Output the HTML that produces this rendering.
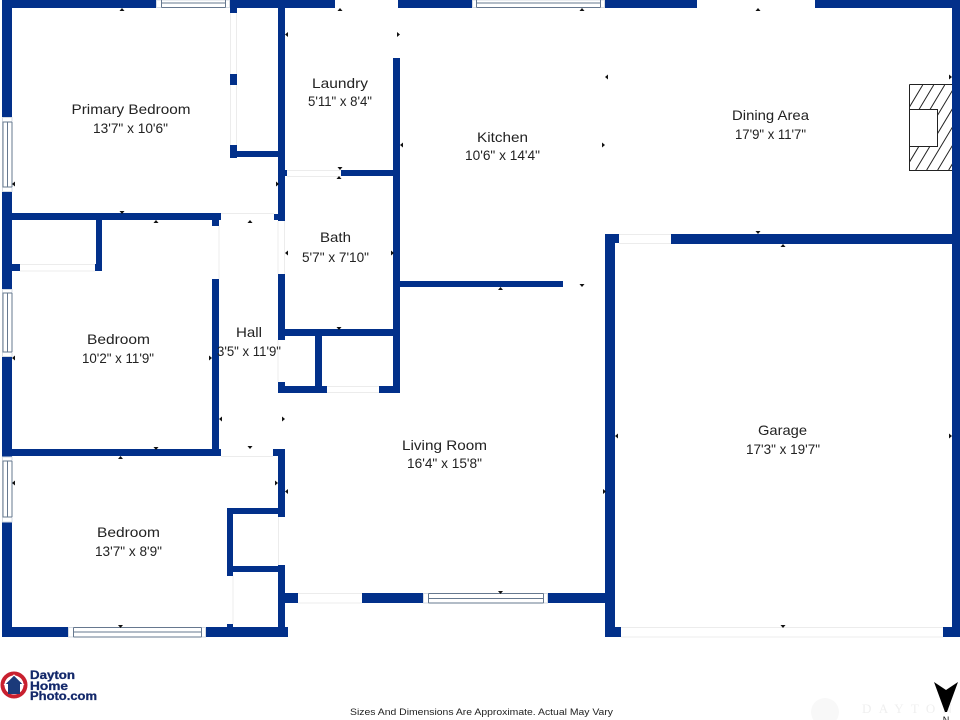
<!DOCTYPE html>
<html lang="en">
<head>
<meta charset="utf-8">
<title>Floor Plan</title>
<style>
html,body{margin:0;padding:0;background:#fff;width:960px;height:720px;overflow:hidden}
svg{display:block}
.w rect{fill:#02308a}
.l text{font-family:"Liberation Sans",sans-serif;font-size:14px;fill:#222}
.d line{stroke:#ececec;stroke-width:1}
.win{fill:#fff;stroke:#66788f;stroke-width:1}
.a polygon{fill:#111}
</style>
</head>
<body>
<svg width="960" height="720" viewBox="0 0 960 720" xmlns="http://www.w3.org/2000/svg">
<rect width="960" height="720" fill="#fff"/>

<!-- faint door lines -->
<g class="d">
<line x1="230.5" y1="13" x2="230.5" y2="74"/><line x1="236.5" y1="13" x2="236.5" y2="74"/>
<line x1="230.5" y1="85" x2="230.5" y2="145"/><line x1="236.5" y1="85" x2="236.5" y2="145"/>
<line x1="287" y1="170.5" x2="341" y2="170.5"/><line x1="287" y1="176.5" x2="341" y2="176.5"/>
<line x1="221" y1="213.5" x2="274" y2="213.5"/><line x1="219" y1="226" x2="219" y2="279"/>
<line x1="278" y1="221" x2="278" y2="274"/><line x1="284.5" y1="221" x2="284.5" y2="274"/>
<line x1="20" y1="264.5" x2="95" y2="264.5"/><line x1="20" y1="271" x2="95" y2="271"/>
<line x1="278" y1="340" x2="278" y2="382"/>
<line x1="221" y1="456.5" x2="273" y2="456.5"/>
<line x1="278.5" y1="517" x2="278.5" y2="566"/><line x1="233" y1="576" x2="233" y2="624"/>
<line x1="327" y1="392.5" x2="379" y2="392.5"/><line x1="327" y1="386.5" x2="379" y2="386.5"/>
<line x1="298" y1="593.5" x2="362" y2="593.5"/><line x1="298" y1="603" x2="362" y2="603"/>
<line x1="619" y1="234.5" x2="671" y2="234.5"/><line x1="619" y1="243.5" x2="671" y2="243.5"/>
<line x1="621" y1="627.5" x2="943" y2="627.5"/><line x1="621" y1="637" x2="943" y2="637"/>
</g>

<!-- walls -->
<g class="w">
<rect x="2" y="0" width="154" height="8"/>
<rect x="230" y="0" width="105" height="8"/>
<rect x="398" y="0" width="74" height="8"/>
<rect x="605" y="0" width="92" height="8"/>
<rect x="815" y="0" width="145" height="8"/>
<rect x="2" y="0" width="10" height="117"/>
<rect x="2" y="192" width="10" height="97"/>
<rect x="2" y="357" width="10" height="103"/>
<rect x="2" y="522" width="10" height="115"/>
<rect x="230" y="8" width="7" height="5"/>
<rect x="230" y="74" width="7" height="11"/>
<rect x="230" y="145" width="7" height="13"/>
<rect x="230" y="151" width="50" height="6"/>
<rect x="278" y="0" width="7" height="221"/>
<rect x="285" y="170" width="2" height="6"/>
<rect x="12" y="213" width="209" height="7"/>
<rect x="212" y="220" width="7" height="6"/>
<rect x="274" y="214" width="5" height="6"/>
<rect x="96" y="220" width="6" height="51"/>
<rect x="12" y="264" width="8" height="7"/>
<rect x="95" y="264" width="7" height="7"/>
<rect x="212" y="279" width="7" height="172"/>
<rect x="12" y="449" width="209" height="7"/>
<rect x="278" y="274" width="7" height="66"/>
<rect x="285" y="329" width="110" height="7"/>
<rect x="315" y="336" width="7" height="52"/>
<rect x="393" y="58" width="7" height="335"/>
<rect x="278" y="386" width="49" height="7"/>
<rect x="278" y="382" width="7" height="5"/>
<rect x="379" y="386" width="21" height="7"/>
<rect x="400" y="281" width="163" height="6"/>
<rect x="341" y="170" width="53" height="6"/>
<rect x="273" y="449" width="12" height="7"/>
<rect x="278" y="449" width="7" height="68"/>
<rect x="227" y="508" width="52" height="6"/>
<rect x="227" y="508" width="6" height="68"/>
<rect x="233" y="566" width="46" height="6"/>
<rect x="278" y="565" width="7" height="72"/>
<rect x="285" y="593" width="13" height="10"/>
<rect x="2" y="627" width="66" height="10"/>
<rect x="206" y="627" width="82" height="10"/>
<rect x="227" y="624" width="6" height="4"/>
<rect x="362" y="593" width="61" height="10"/>
<rect x="548" y="593" width="58" height="10"/>
<rect x="605" y="234" width="10" height="403"/>
<rect x="605" y="234" width="14" height="9"/>
<rect x="605" y="627" width="16" height="10"/>
<rect x="671" y="234" width="289" height="10"/>
<rect x="952" y="0" width="8" height="637"/>
<rect x="943" y="627" width="17" height="10"/>
</g>

<!-- windows -->
<g class="win">
<rect x="156.5" y="0" width="73" height="7.5" stroke="#d5dbe3"/>
<path d="M161.5 0V7.5M225.5 0V7.5M161.5 3H225.5M161.5 7.5H225.5" fill="none"/>
<rect x="472.5" y="0" width="132" height="7.5" stroke="#d5dbe3"/>
<path d="M476.5 0V7.5M600.5 0V7.5M476.5 3H600.5M476.5 7.5H600.5" fill="none"/>
<rect x="2.5" y="117.5" width="9.5" height="74" stroke="#d5dbe3"/>
<path d="M2.5 122H12M2.5 187H12M3 122V187M7.5 122V187M12 122V187" fill="none"/>
<rect x="2.5" y="289.5" width="9.5" height="67" stroke="#d5dbe3"/>
<path d="M2.5 293H12M2.5 352H12M3 293V352M7.5 293V352M12 293V352" fill="none"/>
<rect x="2.5" y="457" width="9.5" height="65" stroke="#d5dbe3"/>
<path d="M2.5 461H12M2.5 517H12M3 461V517M7.5 461V517M12 461V517" fill="none"/>
<rect x="68.5" y="627.5" width="137" height="9.5" stroke="#d5dbe3"/>
<path d="M73.5 627.5V637M201.5 627.5V637M73.5 627.5H201.5M73.5 632H201.5M73.5 637H201.5" fill="none"/>
<rect x="423.5" y="593.5" width="124" height="9.5" stroke="#d5dbe3"/>
<path d="M428.5 593.5V603M543.5 593.5V603M428.5 593.5H543.5M428.5 598.5H543.5M428.5 603H543.5" fill="none"/>
</g>

<!-- fireplace -->
<defs><clipPath id="fp"><path d="M909.500 84.500H952V170.500H909.500ZM909.500 109.500V146.500H937.500V109.500Z" clip-rule="evenodd"/></clipPath></defs>
<g clip-path="url(#fp)" stroke="#222" stroke-width="1" fill="none">
<path d="M922.700 85L871.700 170M933.700 85L882.700 170M944.700 85L893.700 170M955.700 85L904.700 170M966.700 85L915.700 170M977.700 85L926.700 170M988.700 85L937.700 170M999.700 85L948.700 170"/>
</g>
<path d="M909.500 84.500H952M909.500 84.500V170.500H952M909.500 109.500H937.500V146.500H909.500" fill="none" stroke="#222" stroke-width="1"/>

<!-- arrowheads -->
<g class="a">
<polygon points="122,8 119.500,11 124.500,11"/>
<polygon points="156,220 153.500,223 158.500,223"/>
<polygon points="250,220 247.500,223 252.500,223"/>
<polygon points="340,8 337.500,11 342.500,11"/>
<polygon points="582,8 579.500,11 584.500,11"/>
<polygon points="758,8 755.500,11 760.500,11"/>
<polygon points="783,244 780.500,247 785.500,247"/>
<polygon points="339,176 336.500,179 341.500,179"/>
<polygon points="120.500,456 118,459 123,459"/>
<polygon points="500.500,287 498,290 503,290"/>
<polygon points="122,214 119.500,211 124.500,211"/>
<polygon points="340,170 337.500,167 342.500,167"/>
<polygon points="758,234 755.500,231 760.500,231"/>
<polygon points="339,330 336.500,327 341.500,327"/>
<polygon points="156,450 153.500,447 158.500,447"/>
<polygon points="250,449 247.500,446 252.500,446"/>
<polygon points="582,287 579.500,284 584.500,284"/>
<polygon points="120.500,628 118,625 123,625"/>
<polygon points="500.500,594 498,591 503,591"/>
<polygon points="783,628 780.500,625 785.500,625"/>
<polygon points="285,34.500 288,32 288,37"/>
<polygon points="605,77 608,74.500 608,79.500"/>
<polygon points="400,145 403,142.500 403,147.500"/>
<polygon points="12,184 15,181.500 15,186.500"/>
<polygon points="285,253 288,250.500 288,255.500"/>
<polygon points="12,358 15,355.500 15,360.500"/>
<polygon points="219,419 222,416.500 222,421.500"/>
<polygon points="12,483 15,480.500 15,485.500"/>
<polygon points="285,491.500 288,489 288,494"/>
<polygon points="615,436 618,433.500 618,438.500"/>
<polygon points="400,34.500 397,32 397,37"/>
<polygon points="605,145 602,142.500 602,147.500"/>
<polygon points="279,184 276,181.500 276,186.500"/>
<polygon points="952,77 949,74.500 949,79.500"/>
<polygon points="394,253 391,250.500 391,255.500"/>
<polygon points="212,358 209,355.500 209,360.500"/>
<polygon points="285,419 282,416.500 282,421.500"/>
<polygon points="278,483 275,480.500 275,485.500"/>
<polygon points="606,491.500 603,489 603,494"/>
<polygon points="952,436 949,433.500 949,438.500"/>
</g>

<!-- labels -->
<g class="l">
<text x="71.500" y="114" textLength="119" lengthAdjust="spacingAndGlyphs">Primary Bedroom</text>
<text x="93" y="133" textLength="75" lengthAdjust="spacingAndGlyphs">13'7" x 10'6"</text>
<text x="312" y="88" textLength="56" lengthAdjust="spacingAndGlyphs">Laundry</text>
<text x="308" y="106" textLength="64" lengthAdjust="spacingAndGlyphs">5'11" x 8'4"</text>
<text x="477" y="142" textLength="51" lengthAdjust="spacingAndGlyphs">Kitchen</text>
<text x="465" y="160" textLength="75" lengthAdjust="spacingAndGlyphs">10'6" x 14'4"</text>
<text x="732" y="120" textLength="77" lengthAdjust="spacingAndGlyphs">Dining Area</text>
<text x="735" y="139" textLength="71" lengthAdjust="spacingAndGlyphs">17'9" x 11'7"</text>
<text x="320" y="242" textLength="31" lengthAdjust="spacingAndGlyphs">Bath</text>
<text x="302" y="262" textLength="67" lengthAdjust="spacingAndGlyphs">5'7" x 7'10"</text>
<text x="236" y="337" textLength="26" lengthAdjust="spacingAndGlyphs">Hall</text>
<text x="217" y="356" textLength="64" lengthAdjust="spacingAndGlyphs">3'5" x 11'9"</text>
<text x="87" y="344" textLength="63" lengthAdjust="spacingAndGlyphs">Bedroom</text>
<text x="82" y="363" textLength="72" lengthAdjust="spacingAndGlyphs">10'2" x 11'9"</text>
<text x="97" y="537" textLength="63" lengthAdjust="spacingAndGlyphs">Bedroom</text>
<text x="95" y="556" textLength="67" lengthAdjust="spacingAndGlyphs">13'7" x 8'9"</text>
<text x="402" y="450" textLength="85" lengthAdjust="spacingAndGlyphs">Living Room</text>
<text x="407" y="468" textLength="75" lengthAdjust="spacingAndGlyphs">16'4" x 15'8"</text>
<text x="758" y="435" textLength="49" lengthAdjust="spacingAndGlyphs">Garage</text>
<text x="746" y="454" textLength="74" lengthAdjust="spacingAndGlyphs">17'3" x 19'7"</text>
<text x="350" y="715" textLength="263" lengthAdjust="spacingAndGlyphs" style="font-size:9.500px">Sizes And Dimensions Are Approximate. Actual May Vary</text>
</g>

<!-- logo -->
<circle cx="14" cy="685" r="11.500" fill="none" stroke="#c8202f" stroke-width="4"/>
<path d="M14 675L5 684H8V694H20V684H23Z" fill="#1b3a7a"/>
<path d="M4 685L14 675L24 685" fill="none" stroke="#fff" stroke-width="1"/>
<g style="font-family:'Liberation Sans',sans-serif;font-weight:bold;font-size:12px;" fill="#14296b" stroke="#14296b" stroke-width="0.300">
<text x="30" y="679" textLength="45" lengthAdjust="spacingAndGlyphs">Dayton</text>
<text x="30" y="690" textLength="38" lengthAdjust="spacingAndGlyphs">Home</text>
<text x="30" y="700" textLength="67" lengthAdjust="spacingAndGlyphs">Photo.com</text>
</g>

<!-- watermark -->
<circle cx="825" cy="712" r="14" fill="#f8f8f8"/>
<text x="862" y="713" textLength="90" lengthAdjust="spacing" style="font-family:'Liberation Serif',serif;font-size:13px" fill="#efefef">DAYTON</text>

<!-- north arrow -->
<polygon points="934,682 946,690 958,682 947,712 945,712" fill="#000"/>
<text x="946" y="723" text-anchor="middle" style="font-family:'Liberation Sans',sans-serif;font-size:9px" fill="#111">N</text>
</svg>
</body>
</html>
